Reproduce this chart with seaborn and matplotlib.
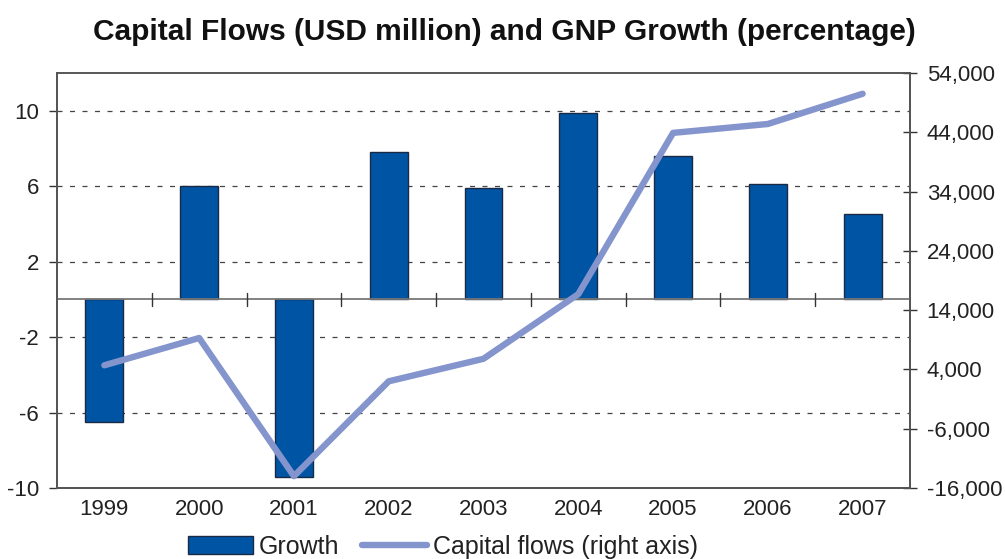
import numpy as np
import matplotlib
matplotlib.use("Agg")
import matplotlib.pyplot as plt
import seaborn as sns
from matplotlib.ticker import FuncFormatter, FixedLocator
from matplotlib.lines import Line2D
from matplotlib.patches import Patch

years = ["1999", "2000", "2001", "2002", "2003", "2004", "2005", "2006", "2007"]
growth = [-6.5, 6.0, -9.4, 7.8, 5.9, 9.9, 7.6, 6.1, 4.5]
capital_flows = [4700, 9300, -14000, 2000, 5800, 16700, 43900, 45400, 50500]

left_ticks = [-10, -6, -2, 2, 6, 10]
right_ticks = [-16000, -6000, 4000, 14000, 24000, 34000, 44000, 54000]

bar_color = "#0054a4"
line_color = "#8494cc"
spine_color = "#555555"
text_color = "#222222"

sns.set_theme(style="white")
plt.rcParams["font.family"] = ["Liberation Sans", "DejaVu Sans"]
plt.rcParams["axes.unicode_minus"] = False

fig = plt.figure(figsize=(10.05, 5.59), dpi=100)
ax = fig.add_axes([0.0567, 0.127, 0.8488, 0.7424])

sns.barplot(x=years, y=growth, color=bar_color, width=0.4, saturation=1,
            edgecolor="#1a2a44", linewidth=1.0, ax=ax, zorder=3)
ax.set_xlim(-0.5, len(years) - 0.5)
ax.set_ylim(-10, 12)
ax.yaxis.set_major_locator(FixedLocator(left_ticks))
ax.set_xlabel("")
ax.set_ylabel("")

# dashed gridlines at the left-axis ticks, solid zero line
for t in left_ticks[1:]:
    ax.axhline(t, color="#444444", lw=0.9, ls=(0, (4, 6)), zorder=1)
ax.axhline(0, color="#777777", lw=1.3, zorder=4)
# small separators between categories on the zero line
for b in np.arange(0.5, len(years) - 1, 1.0):
    ax.plot([b, b], [-0.35, 0.35], color="#333333", lw=1.0, zorder=4)

ax2 = ax.twinx()
sns.lineplot(x=np.arange(len(years)), y=capital_flows, color=line_color,
             linewidth=4.6, ax=ax2, zorder=5)
ax2.set_ylim(-16000, 54000)
ax2.yaxis.set_major_locator(FixedLocator(right_ticks))
ax2.yaxis.set_major_formatter(FuncFormatter(lambda v, p: f"{int(v):,}"))
ax2.set_ylabel("")

for a in (ax, ax2):
    for s in a.spines.values():
        s.set_color(spine_color)
        s.set_linewidth(1.3)
ax.spines["top"].set_color("#888888")

ax.tick_params(axis="y", which="major", left=True, length=6, width=1.0,
               color="#333333", labelsize=16, labelcolor=text_color, pad=7)
ax.tick_params(axis="x", bottom=False, labelsize=16, labelcolor=text_color, pad=2)
ax2.tick_params(axis="y", right=True, direction="inout", length=10, width=1.0,
                color="#333333", labelsize=16, labelcolor=text_color, pad=7)

fig.suptitle("Capital Flows (USD million) and GNP Growth (percentage)",
             x=0.502, y=0.968, fontsize=21.5, fontweight="bold", color="#111111")

handles = [Patch(facecolor=bar_color, edgecolor="#1a2a44", linewidth=1.0),
           Line2D([0], [0], color=line_color, lw=4.6)]
fig.legend(handles, ["Growth", "Capital flows (right axis)"],
           loc="lower center", bbox_to_anchor=(0.441, -0.04), ncol=2, frameon=False,
           fontsize=18, handlelength=2.6, handleheight=0.75, columnspacing=0.9,
           handletextpad=0.25, labelcolor=text_color)

fig.savefig("out.png", dpi=100)
